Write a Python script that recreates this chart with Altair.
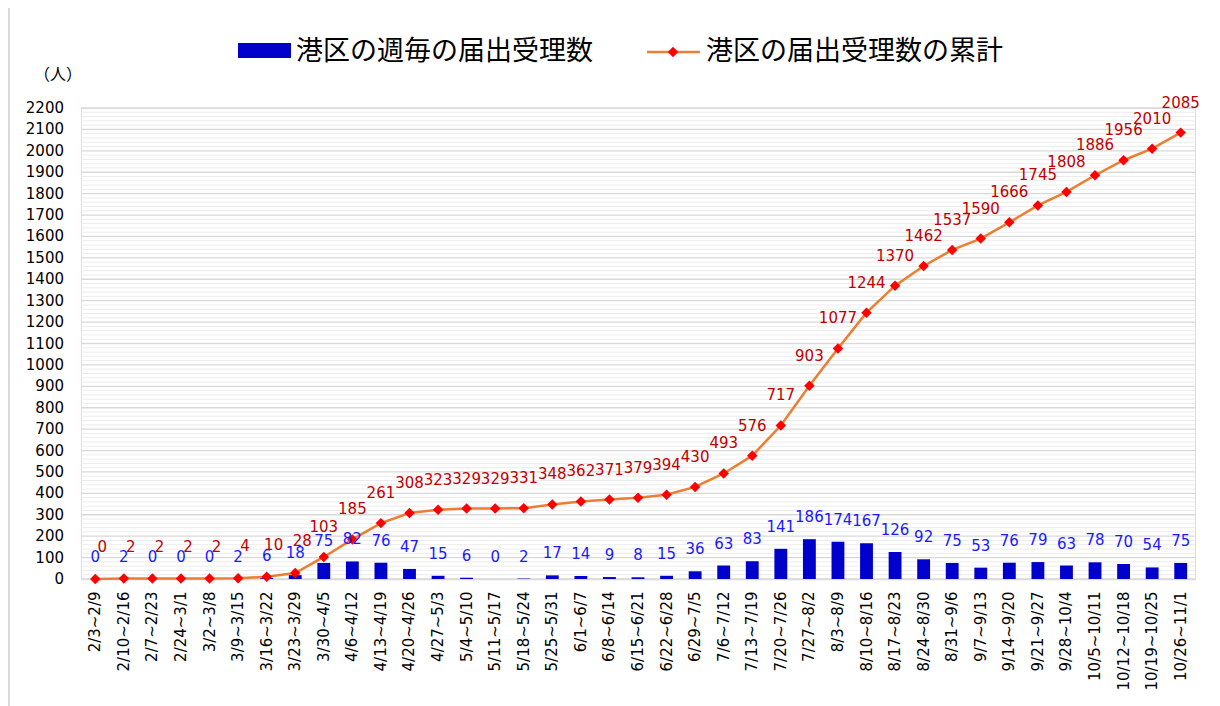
import altair as alt
import pandas as pd

weeks = ["2/3~2/9", "2/10~2/16", "2/7~2/23", "2/24~3/1", "3/2~3/8", "3/9~3/15",
         "3/16~3/22", "3/23~3/29", "3/30~4/5", "4/6~4/12", "4/13~4/19", "4/20~4/26",
         "4/27~5/3", "5/4~5/10", "5/11~5/17", "5/18~5/24", "5/25~5/31", "6/1~6/7",
         "6/8~6/14", "6/15~6/21", "6/22~6/28", "6/29~7/5", "7/6~7/12", "7/13~7/19",
         "7/20~7/26", "7/27~8/2", "8/3~8/9", "8/10~8/16", "8/17~8/23", "8/24~8/30",
         "8/31~9/6", "9/7~9/13", "9/14~9/20", "9/21~9/27", "9/28~10/4", "10/5~10/11",
         "10/12~10/18", "10/19~10/25", "10/26~11/1"]
weekly = [0, 2, 0, 0, 0, 2, 6, 18, 75, 82, 76, 47, 15, 6, 0, 2, 17, 14, 9, 8, 15, 36,
          63, 83, 141, 186, 174, 167, 126, 92, 75, 53, 76, 79, 63, 78, 70, 54, 75]
cumulative = [0, 2, 2, 2, 2, 4, 10, 28, 103, 185, 261, 308, 323, 329, 329, 331, 348,
              362, 371, 379, 394, 430, 493, 576, 717, 903, 1077, 1244, 1370, 1462,
              1537, 1590, 1666, 1745, 1808, 1886, 1956, 2010, 2085]
major_ticks = list(range(0, 2201, 100))
minor_ticks = [v for v in range(0, 2201, 20) if v % 100 != 0]
legend_bar = "港区の週毎の届出受理数"
legend_line = "港区の届出受理数の累計"
unit_label = "（人）"

df = pd.DataFrame({"week": weeks, "weekly": weekly, "cum": cumulative})
major_df = pd.DataFrame({"v": major_ticks})
minor_df = pd.DataFrame({"v": minor_ticks})

x_enc = alt.X("week:N", sort=weeks,
              scale=alt.Scale(paddingInner=0.55, paddingOuter=0.275),
              axis=alt.Axis(title=None, labelAngle=-90, labelFontSize=15,
                            labelColor="#000000", ticks=False, domainColor="#d9d9d9",
                            domainWidth=1.5, labelPadding=12, grid=False, labelLimit=0))
y_scale = alt.Scale(domain=[0, 2200], nice=False, zero=True)


def yq(field):
    return alt.Y(field, scale=y_scale, axis=None)


minor_grid = alt.Chart(minor_df).mark_rule(color="#ececec", strokeWidth=1).encode(
    y=yq("v:Q"))
major_grid = alt.Chart(major_df).mark_rule(color="#d9d9d9", strokeWidth=1.3).encode(
    y=yq("v:Q"))
y_labels = alt.Chart(major_df).mark_text(align="right", baseline="middle", fontSize=15,
                                         color="#000000").encode(
    x=alt.value(-17), y=yq("v:Q"), text=alt.Text("v:Q", format="d"))

base = alt.Chart(df).encode(x=x_enc)

bars = base.mark_bar(color="#0000cc").encode(y=yq("weekly:Q"))
bar_text = base.mark_text(dy=-22, baseline="middle", fontSize=15, color="#1a1aff").encode(
    y=yq("weekly:Q"), text="weekly:Q")

line = base.mark_line(color="#ed7d31", strokeWidth=2.5).encode(y=yq("cum:Q"))
pts = base.mark_point(shape="diamond", filled=True, color="#ff0000", size=110,
                      opacity=1).encode(y=yq("cum:Q"))
line_text_hi = base.transform_filter("datum.cum >= 50").mark_text(
    dy=-30, baseline="middle", fontSize=15, color="#c00000").encode(
    y=yq("cum:Q"), text="cum:Q")
line_text_lo = base.transform_filter("datum.cum < 50").mark_text(
    dx=7, dy=-32, baseline="middle", fontSize=15, color="#c00000").encode(
    y=yq("cum:Q"), text="cum:Q")

leg1 = pd.DataFrame({"t": [legend_bar]})
leg2 = pd.DataFrame({"t": [legend_line]})
unit = pd.DataFrame({"t": [unit_label]})

leg_rect = alt.Chart(leg1).mark_rect(color="#0000cc").encode(
    x=alt.value(157), x2=alt.value(210), y=alt.value(-65), y2=alt.value(-50))
leg_text1 = alt.Chart(leg1).mark_text(align="left", baseline="middle", fontSize=27,
                                      font="Noto Sans CJK JP", color="#000000").encode(
    x=alt.value(215), y=alt.value(-56), text="t:N")
leg_line = alt.Chart(leg2).mark_rule(color="#ed7d31", strokeWidth=2.5).encode(
    x=alt.value(566), x2=alt.value(619), y=alt.value(-56))
leg_pt = alt.Chart(leg2).mark_point(shape="diamond", filled=True, color="#ff0000",
                                    size=110, opacity=1).encode(
    x=alt.value(592), y=alt.value(-56))
leg_text2 = alt.Chart(leg2).mark_text(align="left", baseline="middle", fontSize=27,
                                      font="Noto Sans CJK JP", color="#000000").encode(
    x=alt.value(625), y=alt.value(-56), text="t:N")
unit_text = alt.Chart(unit).mark_text(align="center", baseline="middle", fontSize=16,
                                      font="Noto Sans CJK JP", color="#000000").encode(
    x=alt.value(-23), y=alt.value(-33), text="t:N")
border = alt.Chart(unit).mark_rule(color="#d9d9d9", strokeWidth=2).encode(
    x=alt.value(-72), y=alt.value(-110), y2=alt.value(620))

chart = alt.layer(
    minor_grid, major_grid, y_labels, bars, line, pts, bar_text, line_text_hi,
    line_text_lo, leg_rect, leg_text1, leg_line, leg_pt, leg_text2, unit_text, border
).properties(
    width=1114, height=471,
    autosize=alt.AutoSizeParams(type="none"),
    padding={"left": 73, "top": 100, "right": 17, "bottom": 127},
    background="#ffffff",
).configure_view(stroke=None).configure(font="DejaVu Sans")

chart.save("out.html", embed_options={"renderer": "svg", "actions": False})
